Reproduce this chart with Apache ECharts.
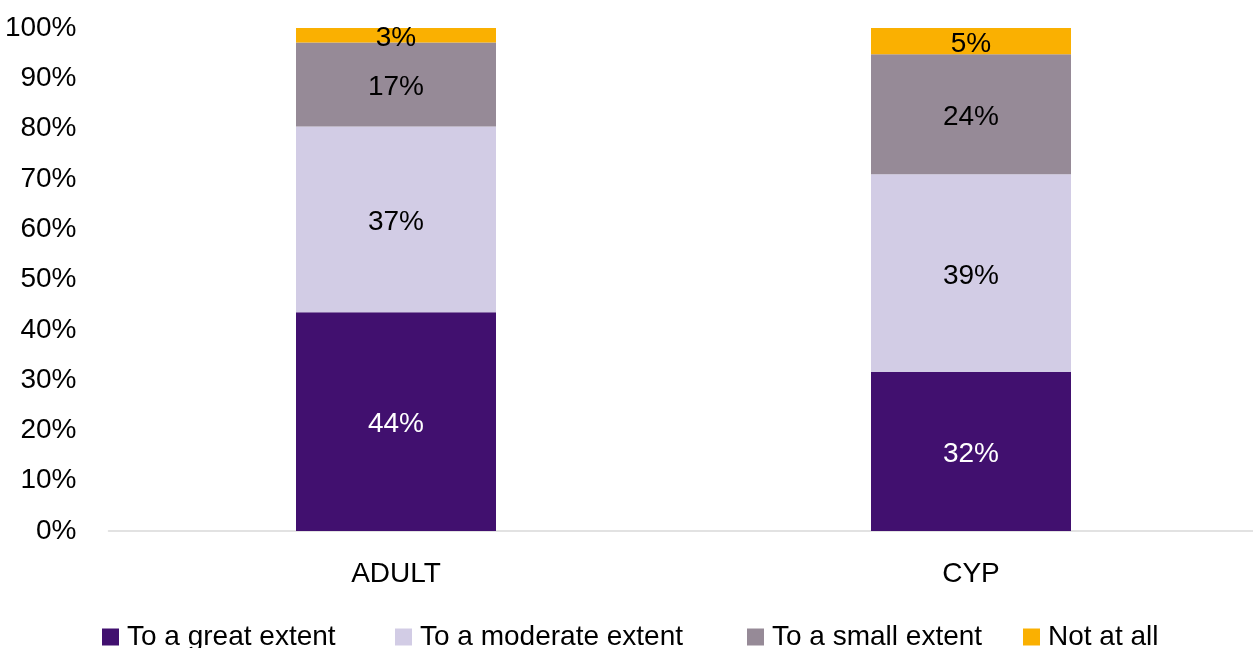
<!DOCTYPE html>
<html><head><meta charset="utf-8">
<script src="https://cdn.jsdelivr.net/npm/echarts@6/dist/echarts.min.js"></script>
<style>html,body{margin:0;padding:0;background:#fff}#c{width:1253px;height:648px}</style>
</head><body><div id="c"></div>
<script>
const categories = ["ADULT", "CYP"];
const seriesNames = ["To a great extent", "To a moderate extent", "To a small extent", "Not at all"];
const greatExtent = [43.5, 31.6];
const moderateExtent = [36.9, 39.3];
const smallExtent = [16.7, 23.9];
const notAtAll = [2.9, 5.2];
const yTicks = [0, 10, 20, 30, 40, 50, 60, 70, 80, 90, 100];

const colors = ["#41106F", "#D2CCE5", "#968A97", "#FAB001"];
const labelColors = ["#FFFFFF", "#000000", "#000000", "#000000"];
const values = [greatExtent, moderateExtent, smallExtent, notAtAll];
const legendLefts = [97, 390, 742, 1018];
const FONT = "Liberation Sans";

const chart = echarts.init(document.getElementById('c'), null, {renderer: 'canvas'});
chart.setOption({
  animation: false,
  textStyle: {fontFamily: FONT},
  grid: {left: 108.5, top: 28, width: 1150, height: 503, containLabel: false, outerBoundsMode: 'none'},
  legend: seriesNames.map((name, i) => ({
    data: [name],
    left: legendLefts[i], top: 618,
    itemWidth: 17, itemHeight: 17, itemGap: 0,
    icon: 'rect',
    textStyle: {fontFamily: FONT, fontSize: 28, color: '#000', padding: [0, 0, 0, 3]}
  })),
  xAxis: {
    type: 'category', data: categories,
    axisLine: {lineStyle: {color: '#D9D9D9', width: 1.5}},
    axisTick: {show: false},
    axisLabel: {fontFamily: FONT, fontSize: 28, color: '#000', margin: 29}
  },
  yAxis: {
    type: 'value', min: yTicks[0], max: yTicks[yTicks.length - 1], interval: 10,
    axisLine: {show: false}, axisTick: {show: false},
    splitLine: {show: false},
    axisLabel: {fontFamily: FONT, fontSize: 28, color: '#000', margin: 32, formatter: v => v + '%'}
  },
  series: seriesNames.map((name, i) => ({
    name, type: 'bar', stack: 'total', barWidth: 200,
    data: values[i],
    itemStyle: {color: colors[i]},
    label: {
      show: true, position: 'inside', offset: [0, 3], fontFamily: FONT, fontSize: 28,
      color: labelColors[i], formatter: p => Math.round(p.value) + '%'
    }
  }))
});
</script></body></html>
